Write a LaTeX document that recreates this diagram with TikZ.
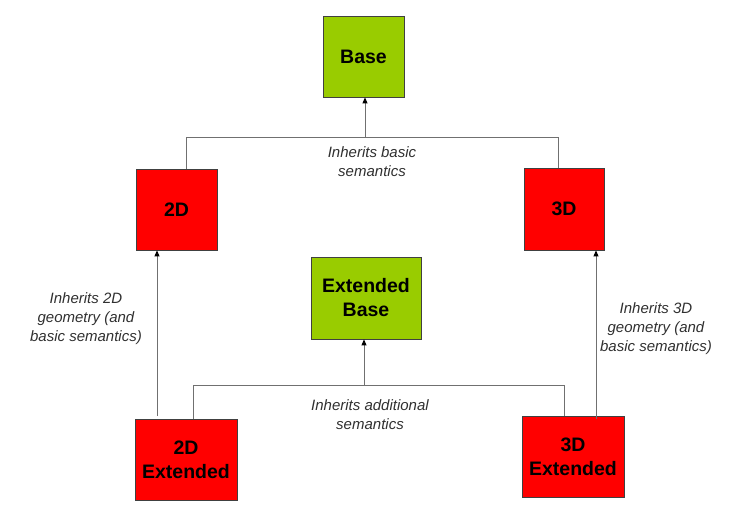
\documentclass[tikz,border=0pt]{standalone}
\usepackage{fontspec}
\setmainfont{Liberation Sans}
\usetikzlibrary{arrows.meta}
\definecolor{boxgreen}{HTML}{99CC00}
\definecolor{boxred}{HTML}{FF0000}
\definecolor{linegray}{HTML}{707070}
\definecolor{textgray}{HTML}{303030}
\tikzset{
  box/.style={draw=black!75, line width=0.8pt, inner sep=0pt, align=center,
    font=\fontsize{19.5}{24}\selectfont\bfseries},
  greenbox/.style={box, fill=boxgreen},
  redbox/.style={box, fill=boxred},
  conn/.style={draw=linegray, line width=0.9pt},
  arr/.style={conn, -{Triangle[length=6pt,width=5pt,color=black]}},
  lbl/.style={align=center, text=textgray, inner sep=0pt,
    font=\fontsize{15}{19}\selectfont\itshape}
}
\begin{document}
\begin{tikzpicture}[x=1pt,y=-1pt]
\useasboundingbox (0,0) rectangle (729,511);
% boxes
\node[greenbox, minimum width=81pt, minimum height=81pt] (base) at (363.5,56.5) {Base};
\node[redbox, minimum width=81pt, minimum height=81pt] (twoD) at (176.5,209.5) {2D};
\node[redbox, minimum width=80pt, minimum height=82pt] (threeD) at (564,209) {3D};
\node[greenbox, minimum width=110pt, minimum height=82pt] (extbase) at (366,298) {Extended\\Base};
\node[redbox, minimum width=102pt, minimum height=81pt] (twoDext) at (186,459.5) {2D\\Extended};
\node[redbox, minimum width=102pt, minimum height=81pt] (threeDext) at (573,456.5) {3D\\Extended};
% upper bus
\coordinate (b1l) at (186,137);
\coordinate (b1r) at (558,137);
\coordinate (b1m) at (365,137);
\draw[conn] (b1l |- twoD.north) -- (b1l) -- (b1r) -- (b1r |- threeD.north);
\draw[arr] (b1m) -- (b1m |- base.south);
% lower bus
\coordinate (b2l) at (193,385);
\coordinate (b2r) at (564,385);
\coordinate (b2m) at (364,385);
\draw[conn] (b2l |- twoDext.north) -- (b2l) -- (b2r) -- (b2r |- threeDext.north);
\draw[arr] (b2m) -- (b2m |- extbase.south);
% side arrows
\coordinate (s2) at (157,416);
\draw[arr] (s2) -- (s2 |- twoD.south);
\coordinate (s3) at (596,419);
\draw[arr] (s3) -- (s3 |- threeD.south);
% labels
\node[lbl] (l1) at (372,162) {Inherits basic\\semantics};
\node[lbl] (l2) at (370,415) {Inherits additional\\semantics};
\node[lbl] (l3) at (86,318.5) {Inherits 2D\\geometry (and\\basic semantics)};
\node[lbl] (l4) at (656,329) {Inherits 3D\\geometry (and\\basic semantics)};
\end{tikzpicture}
\end{document}
